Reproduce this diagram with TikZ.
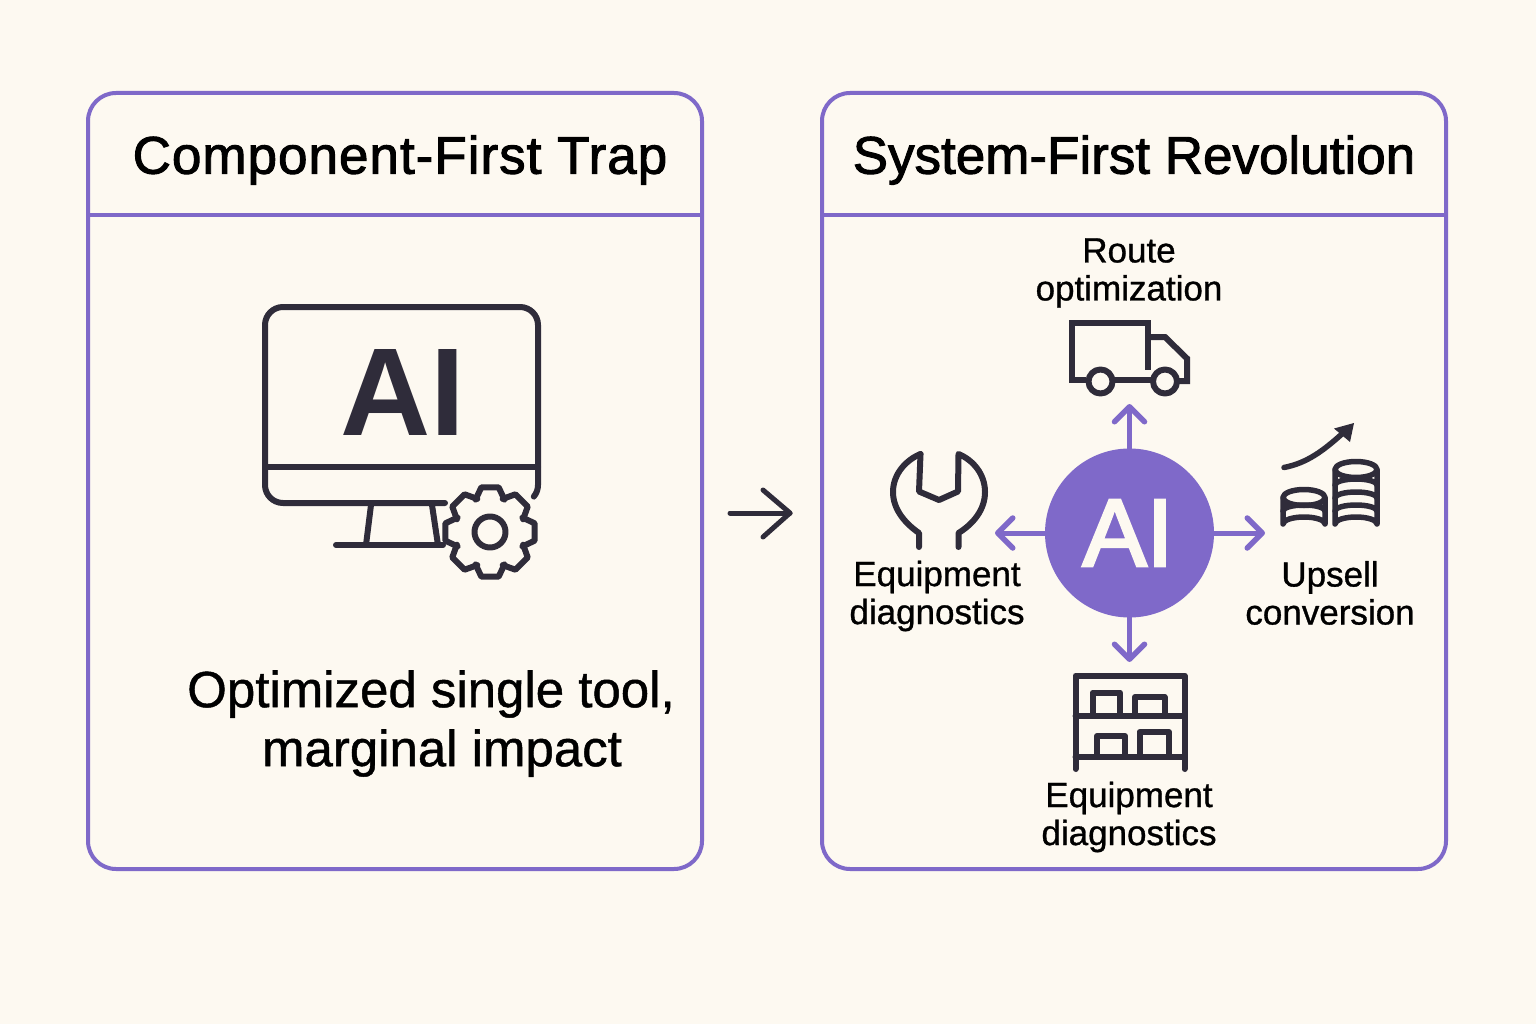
\documentclass[tikz,border=0pt]{standalone}
\usepackage{fontspec}
\usetikzlibrary{arrows.meta}
\setmainfont{Liberation Sans}
\newfontfamily\titlefont[FakeBold=1.8]{Liberation Sans}
\newfontfamily\titlewide[FakeBold=1.8,LetterSpace=1.9]{Liberation Sans}
\newfontfamily\labelfont[FakeBold=0.9]{Liberation Sans}
\newfontfamily\hubfont[FakeBold=3]{Liberation Sans}
\definecolor{paper}{HTML}{FDF9F1}
\definecolor{violet}{HTML}{7F69C9}
\definecolor{ink}{HTML}{2F2C3A}
\tikzset{
  panel/.style={draw=violet,line width=4pt,rounded corners=28pt,inner sep=0pt},
  rule/.style={draw=violet,line width=4pt},
  icon/.style={draw=ink,line width=6pt,line cap=round,line join=round},
  coinline/.style={draw=ink,line width=5.5pt,line cap=round,line join=round},
  spoke/.style={draw=violet,line width=5pt,line cap=round,
    -{Straight Barb[length=15pt,width=30pt,line width=5.5pt,round]}},
  titletext/.style={font=\titlefont\fontsize{53}{53}\selectfont,text=black,inner sep=0pt},
  bigtext/.style={font=\labelfont\fontsize{51}{58}\selectfont,text=black,inner sep=0pt},
  smalltext/.style={font=\labelfont\fontsize{35}{38}\selectfont,text=black,inner sep=0pt,align=center},
}
\begin{document}
\begin{tikzpicture}[x=1pt,y=-1pt]
\useasboundingbox[fill=paper] (0,0) rectangle (1536,1024);
% panels
\node[panel,minimum width=614pt,minimum height=776pt] (left) at (395,481) {};
\node[panel,minimum width=624pt,minimum height=776pt] (right) at (1134,481) {};
\coordinate (lr1) at (left.west |- 0,215);
\coordinate (lr2) at (left.east |- 0,215);
\coordinate (rr1) at (right.west |- 0,215);
\coordinate (rr2) at (right.east |- 0,215);
\draw[rule] (lr1) -- (lr2);
\draw[rule] (rr1) -- (rr2);
\node[titletext,font=\titlewide\fontsize{53}{53}\selectfont] (ltitle) at (400,160) {Component-First Trap};
\node[titletext] (rtitle) at (1134,160) {System-First Revolution};
% monitor
\draw[icon] (445,503) -- (283,503) arc[start angle=90,end angle=180,radius=18] -- (265,325)
  arc[start angle=180,end angle=270,radius=18] -- (520,307)
  arc[start angle=270,end angle=360,radius=18] -- (538,485)
  arc[start angle=0,end angle=40,radius=18];
\draw[icon] (265,467) -- (538,467);
\draw[icon] (371,505) -- (366,545);
\draw[icon] (432,505) -- (438,545);
\draw[icon] (336,545) -- (443,545);
\node[font=\bfseries\fontsize{125}{125}\selectfont,text=ink,inner sep=0pt] (monai) at (402.5,392) {AI};
% gear
\begin{scope}[shift={(490,532)}]
\foreach \k in {0,45,...,315}{
  \draw[icon] (\k-24:35.5) -- (\k-11:45.5) -- (\k+11:45.5) -- (\k+24:35.5);
}
\draw[icon] (0,0) circle[radius=15.5];
\end{scope}
% arrow between panels
\coordinate (midtail) at (730,513);
\coordinate (midtip) at (790,513);
\coordinate (midw1) at (763,490);
\coordinate (midw2) at (763,537);
\draw[icon,line width=5pt] (midtail) -- (midtip);
\draw[icon,line width=5pt] (midw1) -- (midtip) -- (midw2);
% hub
\node[circle,fill=violet,minimum size=169pt,inner sep=0pt] (hub) at (1129.5,533) {};
\node[font=\hubfont\fontsize{96}{96}\selectfont,text=paper,inner sep=0pt] (hubai) at (1128,533) {AI};
\coordinate (upend) at (1129.5,404);
\coordinate (leftend) at (995,533);
\coordinate (rightend) at (1265,533);
\coordinate (downend) at (1129.5,662);
\draw[spoke] (hub.north) -- (upend);
\draw[spoke] (hub.west) -- (leftend);
\draw[spoke] (hub.east) -- (rightend);
\draw[spoke] (hub.south) -- (downend);
% truck
\draw[icon,line cap=butt,line join=miter] (1086,380) -- (1072,380) -- (1072,322.5) -- (1147.5,322.5) -- (1147.5,370);
\draw[icon,line cap=butt,line join=miter] (1147.5,337) -- (1165,337) -- (1187,358.5) -- (1187,381) -- (1178,381);
\draw[icon,line cap=butt] (1114,380) -- (1152,380);
\draw[icon] (1100.5,381.5) circle[radius=12];
\draw[icon] (1165,381.5) circle[radius=12];
% wrench
\draw[icon] (920.5,454) -- (919,491.5) -- (939,500) -- (958,491.5) -- (958.5,454)
  .. controls (973,460) and (985,474) .. (985,492)
  .. controls (985,510) and (973,524) .. (958.5,533) -- (958.5,547);
\draw[icon] (920.5,454) .. controls (906,460) and (893,474) .. (893,492)
  .. controls (893,510) and (906,524) .. (919,533) -- (919,547);
% coins
\begin{scope}
\draw[coinline] (1356,469.5) ellipse[x radius=21,y radius=8];
\draw[coinline] (1335,469.5) -- (1335,524) arc[start angle=180,end angle=360,x radius=21,y radius=7] -- (1377,469.5);
\foreach \y in {485,498,511}{
  \draw[coinline] (1335,\y) arc[start angle=180,end angle=360,x radius=21,y radius=6];
}
\draw[coinline] (1304,497.5) ellipse[x radius=21,y radius=8];
\draw[coinline] (1283,497.5) -- (1283,524) arc[start angle=180,end angle=360,x radius=21,y radius=7] -- (1325,497.5);
\foreach \y in {511}{
  \draw[coinline] (1283,\y) arc[start angle=180,end angle=360,x radius=21,y radius=6];
}
\draw[draw=ink,line width=5.5pt,line cap=round] (1284,467.5) .. controls (1307,463) and (1323,451) .. (1343,433);
\fill[ink] (1354,423) -- (1334,428.5) -- (1350,442) -- cycle;
\end{scope}
% shelf
\draw[icon] (1075.5,769) -- (1075.5,675.5) -- (1184.5,675.5) -- (1184.5,769);
\draw[icon] (1075.5,716) -- (1184.5,716);
\draw[icon] (1075.5,756.5) -- (1184.5,756.5);
\draw[icon,line cap=butt] (1092.5,716) -- (1092.5,692.5) -- (1120,692.5) -- (1120,716);
\draw[icon,line cap=butt] (1135,716) -- (1135,697) -- (1164.5,697) -- (1164.5,716);
\draw[icon,line cap=butt] (1097,756.5) -- (1097,736) -- (1125,736) -- (1125,756.5);
\draw[icon,line cap=butt] (1139.5,756.5) -- (1139.5,732) -- (1169,732) -- (1169,756.5);
% labels
\node[smalltext] (route) at (1129,273) {Route\\optimization};
\node[smalltext] (diag1) at (937,596) {Equipment\\diagnostics};
\node[smalltext] (upsell) at (1330,593) {Upsell\\conversion};
\node[smalltext] (diag2) at (1129,817) {Equipment\\diagnostics};
\node[bigtext] (opt1) at (431,694) {Optimized single tool,};
\node[bigtext] (opt2) at (442,753) {marginal impact};
\end{tikzpicture}
\end{document}
